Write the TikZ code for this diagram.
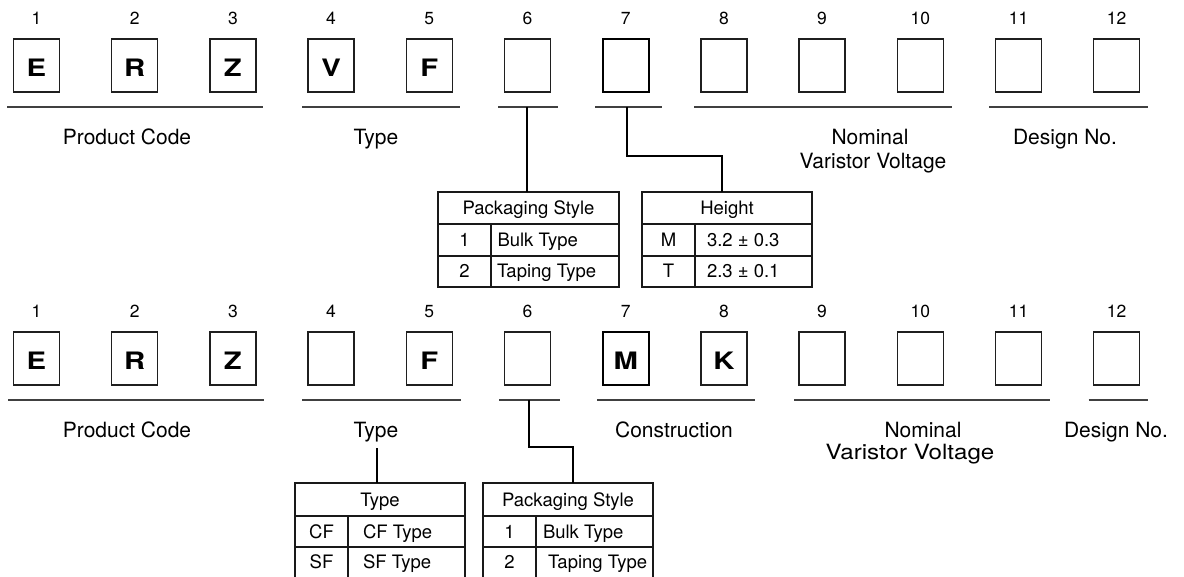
\documentclass[tikz,border=0pt]{standalone}
\usepackage{fontspec}
\setmainfont{TeX Gyre Heros}
\usepackage{graphicx}
\begin{document}
\begin{tikzpicture}[x=1pt,y=-1pt,
  every node/.style={inner sep=0pt, outer sep=0pt},
  cbox/.style={draw=black!88, line width=1.4pt, minimum width=46pt, minimum height=53pt},
  thickbox/.style={line width=1.9pt, draw=black},
  digit/.style={font=\fontsize{17.5}{17.5}\selectfont, anchor=base},
  letter/.style={font=\fontsize{24}{24}\selectfont\bfseries, anchor=base},
  lbl/.style={font=\fontsize{21}{24}\selectfont, anchor=base},
  uline/.style={draw=black!75, line width=1.3pt},
  conn/.style={draw=black, line width=1.1pt},
  tbl/.style={line width=1.1pt, draw=black!90},
  ttext/.style={font=\fontsize{18.5}{18.5}\selectfont, anchor=base},
  ttextl/.style={ttext, anchor=base west}]
\useasboundingbox (0,0) rectangle (1184,577);

% ---------- top code row ----------
\foreach \i/\t in {1/E,2/R,3/Z,4/V,5/F,6/,7/,8/,9/,10/,11/,12/} {
  \pgfmathsetmacro\xx{36.5+98.2*(\i-1)}
  \node[cbox] (a\i) at (\xx,65.5) {};
  \node[digit] (da\i) at (\xx,25) {\i};
  \node[letter] (la\i) at (\xx,76.5) {\scalebox{1.22}[1]{\t}};
}
\draw[thickbox] (a7.south west) rectangle (a7.north east);

\draw[uline] (7,107) -- (263,107);
\draw[uline] (302,107) -- (460,107);
\draw[uline] (498,107) -- (558,107);
\draw[uline] (595,107) -- (662,107);
\draw[uline] (694,107) -- (952,107);
\draw[uline] (989,107) -- (1148,107);

\node[lbl] (pc1) at (127,145) {Product Code};
\node[lbl] (ty1) at (376,145) {Type};
\node[lbl] (nv1a) at (870,145) {Nominal};
\node[lbl] (nv1b) at (873,169) {Varistor Voltage};
\node[lbl] (dn1) at (1065,145) {Design No.};

% top tables
\node[tbl, draw, minimum width=181pt, minimum height=95pt] (pk1) at (528.5,239.5) {};
\draw[tbl] (438,224) -- (619,224) (438,256) -- (619,256) (491,224) -- (491,287);
\node[ttext] (pk1h) at (528.5,214.5) {Packaging Style};
\node[ttext] (pk1a) at (464.5,246.5) {1};
\node[ttextl] (pk1b) at (497.5,246.5) {Bulk Type};
\node[ttext] (pk1c) at (464.5,278) {2};
\node[ttextl] (pk1d) at (497,278) {Taping Type};

\node[tbl, draw, minimum width=170pt, minimum height=95pt] (hh1) at (727,239.5) {};
\draw[tbl] (642,224) -- (812,224) (642,256) -- (812,256) (695,224) -- (695,287);
\node[ttext] (hh1h) at (727,214.5) {Height};
\node[ttext] (hh1a) at (668.5,246.5) {M};
\node[ttextl] (hh1b) at (707,246.5) {3.2 ± 0.3};
\node[ttext] (hh1c) at (668.5,278) {T};
\node[ttextl] (hh1d) at (707,278) {2.3 ± 0.1};

\coordinate (u6) at (527,107);
\draw[conn] (u6) -- (u6 |- pk1.north);
\coordinate (u7) at (627,107);
\coordinate (k7) at (722,156);
\draw[conn] (u7) |- (k7) -- (k7 |- hh1.north);

% ---------- bottom code row ----------
\foreach \i/\t in {1/E,2/R,3/Z,4/,5/F,6/,7/M,8/K,9/,10/,11/,12/} {
  \pgfmathsetmacro\xx{36.5+98.2*(\i-1)}
  \node[cbox] (c\i) at (\xx,358.5) {};
  \node[digit] (dc\i) at (\xx,318) {\i};
  \node[letter] (lc\i) at (\xx,369.5) {\scalebox{1.22}[1]{\t}};
}
\draw[thickbox] (c7.south west) rectangle (c7.north east);

\draw[uline] (8,400) -- (264,400);
\draw[uline] (302,400) -- (461,400);
\draw[uline] (499,400) -- (559.5,400);
\draw[uline] (597,400) -- (754.5,400);
\draw[uline] (794,400) -- (1050,400);
\draw[uline] (1088.5,400) -- (1148,400);

\node[lbl] (pc2) at (127,437) {Product Code};
\node[lbl] (ty2) at (376,437) {Type};
\node[lbl] (co2) at (674,437) {Construction};
\node[lbl] (nv2a) at (923,437) {Nominal};
\node[lbl] (nv2b) at (910,459) {\scalebox{1.15}[1]{Varistor Voltage}};
\node[lbl] (dn2) at (1116,437) {Design No.};

% bottom tables (cut by lower edge)
\node[minimum width=170pt, minimum height=94pt] (tt2) at (380,530) {};
\draw[tbl] (tt2.south west) -- (tt2.north west) -- (tt2.north east) -- (tt2.south east);
\draw[tbl] (295,516) -- (465,516) (295,547) -- (465,547) (348,516) -- (348,577);
\node[ttext] (tt2h) at (380,506.5) {Type};
\node[ttext] (tt2a) at (321.5,538) {CF};
\node[ttextl] (tt2b) at (363,538) {CF Type};
\node[ttext] (tt2c) at (321.5,568.5) {SF};
\node[ttextl] (tt2d) at (363,568.5) {SF Type};

\node[minimum width=170pt, minimum height=94pt] (pk2) at (568,530) {};
\draw[tbl] (pk2.south west) -- (pk2.north west) -- (pk2.north east) -- (pk2.south east);
\draw[tbl] (483,516) -- (653,516) (483,547) -- (653,547) (536,516) -- (536,577);
\node[ttext] (pk2h) at (568,506.5) {Packaging Style};
\node[ttext] (pk2a) at (509.5,538) {1};
\node[ttextl] (pk2b) at (543,538) {Bulk Type};
\node[ttext] (pk2c) at (509.5,568.5) {2};
\node[ttextl] (pk2d) at (548,568.5) {Taping Type};

\coordinate (t4) at (377,448);
\draw[conn] (t4) -- (t4 |- tt2.north);
\coordinate (u6b) at (529,400);
\coordinate (k6b) at (573,447);
\draw[conn] (u6b) |- (k6b) -- (k6b |- pk2.north);
\end{tikzpicture}
\end{document}
